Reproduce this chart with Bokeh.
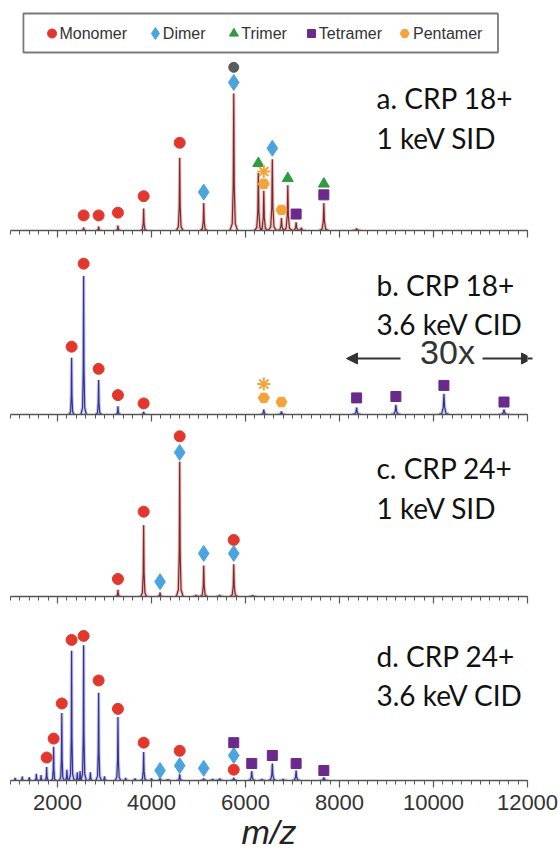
import numpy as np
from bokeh.plotting import figure
from bokeh.models import Range1d, FixedTicker, Label, Arrow, NormalHead, CustomLabelingPolicy
from bokeh.layouts import column
from bokeh.embed import file_html
from bokeh.resources import INLINE
from bokeh.core.properties import value

# ---------------- data (relative intensity, base peak = 100) ----------------
major_ticks = [2000, 4000, 6000, 8000, 10000, 12000]
minor_ticks = list(range(1000, 12001, 200))
tick_labels = ["2000", "4000", "6000", "8000", "10000", "12000"]

legend_names = ["Monomer", "Dimer", "Trimer", "Tetramer", "Pentamer"]

# a. CRP 18+ 1 keV SID
a_mz = [2556, 2875, 3286, 3833, 4600, 5111, 5750, 6273, 6389, 6571, 6765, 6900, 7077, 7188, 7667, 8364]
a_int = [2.2, 2.9, 3.6, 16, 53, 20, 100, 42, 29, 52, 9, 33, 6, 2, 20, 1.5]
a_mark_mz = [2556, 2875, 3286, 3833, 4600, 5111, 5750, 5750, 6273, 6389, 6389, 6571, 6765, 6900, 7077, 7667, 7667]
a_mark_y = [11, 11, 13, 25, 64, 28, 108, 119, 49, 34, 43, 60, 15, 38, 12, 26, 34]
a_mark_kind = ["Monomer", "Monomer", "Monomer", "Monomer", "Monomer", "Dimer", "Dimer", "grey",
               "Trimer", "Pentamer", "star", "Dimer", "Pentamer", "Trimer", "Tetramer", "Tetramer", "Trimer"]

# b. CRP 18+ 3.6 keV CID (m/z > 8000 shown 30x)
b_mz = [2300, 2556, 2875, 3286, 3833, 6389, 6765, 8364, 9200, 10222, 11500]
b_int = [41, 100, 25, 6, 1.8, 3.6, 2.2, 5, 7, 15, 3.6]
b_mark_mz = [2300, 2556, 2875, 3286, 3833, 6389, 6389, 6765, 8364, 9200, 10222, 11500]
b_mark_y = [49, 109, 33, 14, 8, 12, 22, 9, 12, 13, 21, 9]
b_mark_kind = ["Monomer", "Monomer", "Monomer", "Monomer", "Monomer", "Pentamer", "star", "Pentamer",
               "Tetramer", "Tetramer", "Tetramer", "Tetramer"]

# c. CRP 24+ 1 keV SID
c_mz = [3286, 3833, 4182, 4600, 5111, 5750, 4950, 5450, 6150]
c_int = [5, 53, 3, 100, 23, 24, 1.2, 1, 0.8]
c_mark_mz = [3286, 3833, 4182, 4600, 4600, 5111, 5750, 5750]
c_mark_y = [13, 63, 11, 107, 119, 32, 32, 42]
c_mark_kind = ["Monomer", "Monomer", "Dimer", "Dimer", "Monomer", "Dimer", "Dimer", "Monomer"]

# d. CRP 24+ 3.6 keV CID
d_mz = [1769, 1917, 2091, 2300, 2556, 2875, 3286, 3833, 4182, 4600, 5111, 5750, 6133, 6571, 7077, 7667,
        1100, 1250, 1400, 1550, 1650, 2200, 2420, 2480, 2700, 3000, 3450, 3650, 4000, 4350, 5300, 5450, 6350, 6800]
d_int = [10, 25, 50, 96, 100, 65, 47, 21, 2, 4.5, 1.5, 2, 7, 12.6, 7.4, 2.2,
         2, 3, 2.5, 5, 4, 8, 6, 7, 6, 3, 2, 1.5, 1.5, 1, 1, 1.5, 1, 1]
d_mark_mz = [1769, 1917, 2091, 2300, 2556, 2875, 3286, 3833, 4182, 4600, 4600, 5111, 5750, 5750, 5750,
             6133, 6571, 7077, 7667]
d_mark_y = [17, 31, 57, 104, 107, 74, 53, 28, 7.4, 11, 22, 9, 8, 18.5, 28, 12.6, 18.5, 12.6, 7.4]
d_mark_kind = ["Monomer"] * 8 + ["Dimer", "Dimer", "Monomer", "Dimer", "Monomer", "Dimer", "Tetramer",
                                 "Tetramer", "Tetramer", "Tetramer", "Tetramer"]

# ---------------- styles ----------------
STY = {
    "Monomer": dict(marker="circle", size=11, fill_color="#E2372D", line_color="#E2372D"),
    "Dimer": dict(marker="diamond", size=16, fill_color="#4BA4DE", line_color="#4BA4DE"),
    "Trimer": dict(marker="triangle", size=11, fill_color="#2F9A3F", line_color="#2F9A3F"),
    "Tetramer": dict(marker="square", size=10, fill_color="#6A2A8C", line_color="#6A2A8C"),
    "Pentamer": dict(marker="hex", size=11, fill_color="#F2A33A", line_color="#F2A33A"),
    "star": dict(marker="asterisk", size=13, fill_color="#F2A33A", line_color="#F2A33A", line_width=2),
    "grey": dict(marker="circle", size=10, fill_color="#5A5A5A", line_color="#5A5A5A"),
}
RED = ("#7E2828", "#E2B3B3")
BLUE = ("#33338E", "#B9B9E8")

W, X0, X1 = 560, 10, 527
MZ_LO, MZ_HI = 1000, 12000


def mz_at(px):
    return MZ_LO + (px - X0) * (MZ_HI - MZ_LO) / (X1 - X0)


def peak_paths(mzs, ints):
    xs, ys = [], []
    for m, h in zip(mzs, ints):
        s = 0.5 + m / 10000.0
        dx = [-75 * s, -30 * s, -10 * s, 0, 10 * s, 30 * s, 75 * s]
        fy = [0, 0.05, 0.33, 1, 0.33, 0.05, 0]
        xs.append([m + d for d in dx])
        ys.append([h * f for f in fy])
    return xs, ys


def make_panel(frame_h, ymax, last=False):
    p = figure(frame_width=X1 - X0, frame_height=frame_h,
               x_range=Range1d(MZ_LO, MZ_HI), y_range=Range1d(0, ymax),
               output_backend="svg", toolbar_location=None, y_axis_location=None,
               min_border_left=X0, min_border_right=W - X1, min_border_top=0,
               min_border_bottom=10, outline_line_color=None,
               background_fill_color="white", border_fill_color="white")
    p.grid.visible = False
    ax = p.xaxis[0]
    ax.ticker = FixedTicker(ticks=major_ticks, minor_ticks=minor_ticks)
    ax.axis_line_color = "#555555"
    ax.axis_line_width = 1.3
    ax.major_tick_line_color = "#555555"
    ax.major_tick_line_width = 1.2
    ax.major_tick_in = 0
    ax.major_tick_out = 7
    ax.minor_tick_line_color = "#555555"
    ax.minor_tick_in = 0
    ax.minor_tick_out = 4
    if last:
        ax.major_label_overrides = {t: s for t, s in zip(major_ticks, tick_labels)}
        ax.major_label_text_font = "Liberation Sans"
        ax.major_label_text_font_size = "22px"
        ax.major_label_text_color = "#333333"
        ax.major_label_standoff = 7
        ax.axis_label = "m/z"
        ax.axis_label_text_font = "Liberation Sans"
        ax.axis_label_text_font_style = "italic"
        ax.axis_label_text_font_size = "34px"
        ax.axis_label_text_color = "#222222"
        ax.axis_label_standoff = 0
    else:
        ax.major_label_text_font_size = "1px"
        ax.major_label_standoff = 0
        ax.major_label_policy = CustomLabelingPolicy(code="return new Set()")
    return p


def draw_panel(p, mzs, ints, mk_mz, mk_y, mk_kind, colors, l1, l2, y1, y2):
    core, halo = colors
    xs, ys = peak_paths(mzs, ints)
    p.line([MZ_LO, MZ_HI], [0, 0], line_color=core, line_width=1.1)
    p.multi_line(xs, ys, line_color=halo, line_width=3.4, line_alpha=0.8)
    p.multi_line(xs, ys, line_color=core, line_width=1.2)
    for kind in STY:
        xx = [m for m, k in zip(mk_mz, mk_kind) if k == kind]
        yy = [v for v, k in zip(mk_y, mk_kind) if k == kind]
        if xx:
            p.scatter(xx, yy, **STY[kind])
    for txt, yy in ((l1, y1), (l2, y2)):
        p.add_layout(Label(x=mz_at(376), y=yy, text=txt, text_font="Lato", text_font_size="28px",
                           text_color="#111111", text_baseline="alphabetic"))


# ---------------- legend ----------------
lg = figure(width=W, height=60, x_range=Range1d(0, W), y_range=Range1d(60, 0),
            output_backend="svg", toolbar_location=None, x_axis_location=None, y_axis_location=None,
            min_border=0, outline_line_color=None)
lg.grid.visible = False
lg.quad(left=[14], right=[528], top=[13], bottom=[52], fill_color="white",
        line_color="#7A7A7A", line_width=1.8)
leg_mx = [45, 157, 242, 326, 427]
leg_tx = [53, 165, 250, 334, 436]
leg_sizes = {"Monomer": 9, "Dimer": 12, "Trimer": 9, "Tetramer": 8, "Pentamer": 9}
for name, mx, tx in zip(legend_names, leg_mx, leg_tx):
    st = dict(STY[name])
    st["size"] = leg_sizes[name]
    lg.scatter([mx], [33], **st)
lg.text(x=leg_tx, y=[33] * 5, text=legend_names, text_font=value("Liberation Sans"),
        text_font_size="16px", text_color="#333333", text_baseline="middle")

# ---------------- panels ----------------
pa = make_panel(170, 124)
draw_panel(pa, a_mz, a_int, a_mark_mz, a_mark_y, a_mark_kind, RED,
           "a. CRP 18+", "1 keV SID", 133 * 124 / 170, 93 * 124 / 170)

pb = make_panel(173, 125)
draw_panel(pb, b_mz, b_int, b_mark_mz, b_mark_y, b_mark_kind, BLUE,
           "b. CRP 18+", "3.6 keV CID", 130 * 125 / 173, 91 * 125 / 173)
pb.add_layout(Label(x=mz_at(447), y=63 * 125 / 173, text="30x", text_font="Liberation Sans",
                    text_font_size="34px", text_color="#333333", text_align="center",
                    text_baseline="middle"))
for xs_, xe_ in ((mz_at(400), mz_at(346)), (mz_at(482), mz_at(532))):
    pb.add_layout(Arrow(x_start=xs_, x_end=xe_, y_start=56 * 125 / 173, y_end=56 * 125 / 173,
                        line_color="#333333", line_width=2,
                        end=NormalHead(size=11, fill_color="#333333", line_color="#333333")))

pc = make_panel(171, 127)
draw_panel(pc, c_mz, c_int, c_mark_mz, c_mark_y, c_mark_kind, RED,
           "c. CRP 24+", "1 keV SID", 129 * 127 / 171, 89 * 127 / 171)

pd = make_panel(173, 128, last=True)
draw_panel(pd, d_mz, d_int, d_mark_mz, d_mark_y, d_mark_kind, BLUE,
           "d. CRP 24+", "3.6 keV CID", 125 * 128 / 173, 86 * 128 / 173)

layout = column(lg, pa, pb, pc, pd, spacing=0)
open("out.html", "w").write(file_html(layout, INLINE))
